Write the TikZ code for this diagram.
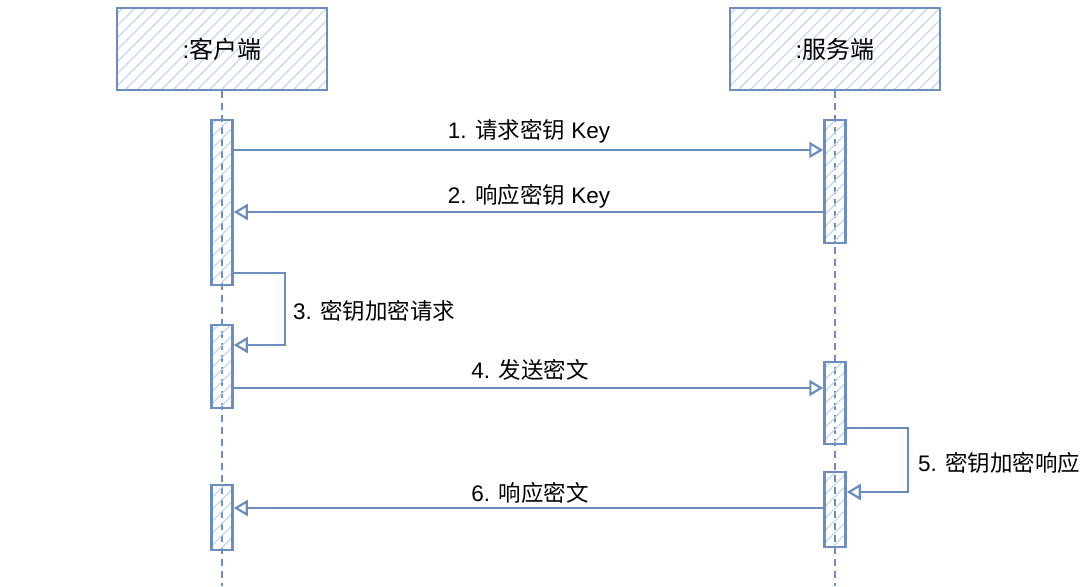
\documentclass[tikz,border=0pt]{standalone}
\usepackage{fontspec}
\setmainfont{Liberation Sans}
\newfontfamily\cjk{Noto Sans CJK SC}
\usetikzlibrary{arrows.meta}
\definecolor{stroke}{HTML}{6C8EBF}
\definecolor{hatch}{HTML}{C3D6F2}
\begin{document}
\begin{tikzpicture}[x=1pt,y=-1pt,
  hatched/.style={path picture={\foreach \i in {-400,-388,...,400}{\draw[hatch,line width=1.2pt] (path picture bounding box.south west) ++(\i,0) -- ++(300,-300);}}},
  headbox/.style={draw=stroke,line width=2.5pt,minimum width=210pt,minimum height=82pt,hatched,inner sep=0,font=\fontsize{24}{28}\selectfont},
  actbox/.style={draw=stroke,line width=2.5pt,minimum width=21pt,minimum height=#1,hatched,inner sep=0},
  life/.style={draw=stroke,line width=2.5pt,dash pattern=on 7pt off 5pt},
  msg/.style={draw=stroke,line width=2.2pt,-{Triangle[open,length=14pt,width=16pt,line width=2.2pt]}},
  lbl/.style={font=\fontsize{22.5}{26}\selectfont,inner sep=0}]
\useasboundingbox (0,0) rectangle (1086,586);
% heads
\node[headbox] (client) at (222,49) {:{\cjk 客户端}};
\node[headbox] (server) at (835,49) {:{\cjk 服务端}};
\coordinate (clientend) at (222,586);
\coordinate (serverend) at (835,586);
\draw[life] (client.south) -- (clientend);
\draw[life] (server.south) -- (serverend);
% activations
\node[actbox=165pt] (a1) at (222,202.5) {};
\node[actbox=83pt] (a2) at (222,366.5) {};
\node[actbox=65pt] (a3) at (222,517.5) {};
\node[actbox=123pt] (s1) at (835,181.5) {};
\node[actbox=82pt] (s2) at (835,403) {};
\node[actbox=75pt] (s3) at (835,509.5) {};
% message rows
\coordinate (y1) at (0,150);
\coordinate (y2) at (0,212);
\coordinate (y3a) at (0,273);
\coordinate (y3b) at (0,345);
\coordinate (y4) at (0,388);
\coordinate (y5a) at (0,428);
\coordinate (y5b) at (0,492);
\coordinate (y6) at (0,508);
\coordinate (x3) at (285,0);
\coordinate (x5) at (908,0);
\draw[msg] (a1.east |- y1) -- (s1.west |- y1);
\draw[msg] (s1.west |- y2) -- (a1.east |- y2);
\draw[msg] (a1.east |- y3a) -- (x3 |- y3a) -- (x3 |- y3b) -- (a2.east |- y3b);
\draw[msg] (a2.east |- y4) -- (s2.west |- y4);
\draw[msg] (s2.east |- y5a) -- (x5 |- y5a) -- (x5 |- y5b) -- (s3.east |- y5b);
\draw[msg] (s3.west |- y6) -- (a3.east |- y6);
% labels
\node[lbl] (l1) at (529,131) {1. {\cjk 请求密钥} Key};
\node[lbl] (l2) at (529,196) {2. {\cjk 响应密钥} Key};
\node[lbl,anchor=west] (l3) at (293,311) {3. {\cjk 密钥加密请求}};
\node[lbl] (l4) at (530,370) {4. {\cjk 发送密文}};
\node[lbl,anchor=west] (l5) at (918,463) {5. {\cjk 密钥加密响应}};
\node[lbl] (l6) at (530,493) {6. {\cjk 响应密文}};
\end{tikzpicture}
\end{document}
